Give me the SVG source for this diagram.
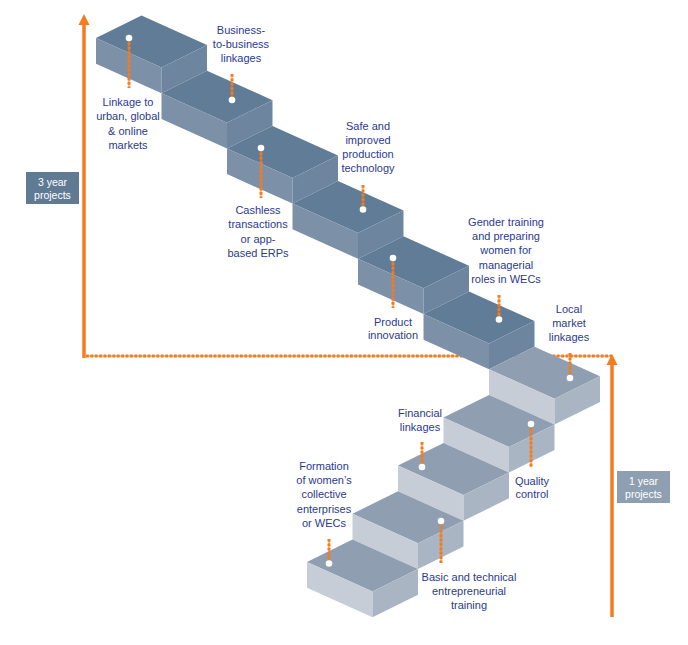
<svg xmlns="http://www.w3.org/2000/svg" xmlns:xlink="http://www.w3.org/1999/xlink" width="688" height="645" viewBox="0 0 688 645">
<style>
  .lbl { font-family: "Liberation Sans", Arial, sans-serif; font-size: 11px; fill: #2b3a8c; text-anchor: middle; }
  .box { font-family: "Liberation Sans", Arial, sans-serif; font-size: 10.5px; fill: #ffffff; text-anchor: middle; }
  .dkTop { fill: #617c96; } .dkFront { fill: #7c90a7; } .dkRight { fill: #6d859f; }
  .ltTop { fill: #8f9eb1; } .ltFront { fill: #c6cdd7; } .ltRight { fill: #aab5c4; }
  .lead { stroke: #f47b20; stroke-width: 3; stroke-dasharray: 2.8 1.6; fill: none; }
  .leadc { stroke: #f47b20; stroke-width: 1; fill: none; }
  .dot { fill: #ffffff; }
  .axis { stroke: #f47b20; stroke-width: 3.5; fill: none; }
  .head { fill: #f47b20; }
</style>
<defs>
  <g id="blockDark">
    <polygon class="dkTop" points="0,0 45.5,-22.5 111,7 65.5,29.5"/>
    <polygon class="dkFront" points="0,0 65.5,29.5 65.5,55.2 0,25.7"/>
    <polygon class="dkRight" points="65.5,29.5 111,7 111,32.7 65.5,55.2"/>
  </g>
  <g id="blockLight">
    <polygon class="ltTop" points="0,0 45.5,-22.5 111,7 65.5,29.5"/>
    <polygon class="ltFront" points="0,0 65.5,29.5 65.5,55.2 0,25.7"/>
    <polygon class="ltRight" points="65.5,29.5 111,7 111,32.7 65.5,55.2"/>
  </g>
</defs>

<g id="connectors">
  <line class="leadc" x1="86" y1="356" x2="612" y2="356"/>
  <line class="lead" x1="86" y1="356" x2="612" y2="356"/>
  <line class="axis" x1="84" y1="358" x2="84" y2="24"/>
  <polygon class="head" points="78.5,25 84,14 89.5,25"/>
  <line class="axis" x1="612" y1="617" x2="612" y2="364"/>
  <polygon class="head" points="606.5,365 612,354 617.5,365"/>
</g>

<g id="axis-3year">
  <rect x="26" y="172" width="53" height="32" fill="#5f7b94"/>
  <text class="box"><tspan x="52.5" y="186">3 year</tspan><tspan x="52.5" y="199">projects</tspan></text>
</g>
<g id="axis-1year">
  <rect x="617" y="471" width="53" height="32" fill="#8f9fb2"/>
  <text class="box"><tspan x="643.5" y="485">1 year</tspan><tspan x="643.5" y="498">projects</tspan></text>
</g>

<!-- Upper staircase (3 year) -->
<g id="step11">
  <use xlink:href="#blockDark" x="96" y="38"/>
  <line class="leadc" x1="129" y1="38" x2="129" y2="88"/>
  <line class="lead" x1="129" y1="38" x2="129" y2="88"/>
  <circle class="dot" cx="129" cy="38" r="3.3"/>
  <text class="lbl"><tspan x="128" y="106">Linkage to</tspan><tspan x="128" y="120">urban, global</tspan><tspan x="128" y="135">&amp; online</tspan><tspan x="128" y="149">markets</tspan></text>
</g>
<g id="step10">
  <use xlink:href="#blockDark" x="161.5" y="93.2"/>
  <line class="leadc" x1="232" y1="74" x2="232" y2="100"/>
  <line class="lead" x1="232" y1="74" x2="232" y2="100"/>
  <circle class="dot" cx="232" cy="100" r="3.3"/>
  <text class="lbl"><tspan x="241" y="34">Business-</tspan><tspan x="241" y="48">to-business</tspan><tspan x="241" y="62">linkages</tspan></text>
</g>
<g id="step9">
  <use xlink:href="#blockDark" x="227" y="148.4"/>
  <line class="leadc" x1="261" y1="148" x2="261" y2="198"/>
  <line class="lead" x1="261" y1="148" x2="261" y2="198"/>
  <circle class="dot" cx="261" cy="148" r="3.3"/>
  <text class="lbl"><tspan x="258" y="214">Cashless</tspan><tspan x="258" y="228">transactions</tspan><tspan x="258" y="243">or app-</tspan><tspan x="258" y="257">based ERPs</tspan></text>
</g>
<g id="step8">
  <use xlink:href="#blockDark" x="292.5" y="203.6"/>
  <line class="leadc" x1="363" y1="185" x2="363" y2="209"/>
  <line class="lead" x1="363" y1="185" x2="363" y2="209"/>
  <circle class="dot" cx="363" cy="209.5" r="3.3"/>
  <text class="lbl"><tspan x="368" y="130">Safe and</tspan><tspan x="368" y="144">improved</tspan><tspan x="368" y="158">production</tspan><tspan x="368" y="172">technology</tspan></text>
</g>
<g id="step7">
  <use xlink:href="#blockDark" x="358" y="258.8"/>
  <line class="leadc" x1="393" y1="258" x2="393" y2="308"/>
  <line class="lead" x1="393" y1="258" x2="393" y2="308"/>
  <circle class="dot" cx="393" cy="258" r="3.3"/>
  <text class="lbl"><tspan x="393" y="326">Product</tspan><tspan x="393" y="339">innovation</tspan></text>
</g>
<g id="step6">
  <use xlink:href="#blockDark" x="423.5" y="314"/>
  <line class="leadc" x1="499" y1="295" x2="499" y2="319"/>
  <line class="lead" x1="499" y1="295" x2="499" y2="319"/>
  <circle class="dot" cx="499" cy="319.5" r="3.3"/>
  <text class="lbl"><tspan x="506" y="226">Gender training</tspan><tspan x="506" y="240">and preparing</tspan><tspan x="506" y="254">women for</tspan><tspan x="506" y="269">managerial</tspan><tspan x="506" y="283">roles in WECs</tspan></text>
</g>

<!-- Lower staircase (1 year) -->
<g id="step5">
  <use xlink:href="#blockLight" x="489" y="369.2"/>
  <line class="leadc" x1="570" y1="353" x2="570" y2="377"/>
  <line class="lead" x1="570" y1="353" x2="570" y2="377"/>
  <circle class="dot" cx="570" cy="378" r="3.3"/>
  <text class="lbl"><tspan x="569" y="313">Local</tspan><tspan x="569" y="327">market</tspan><tspan x="569" y="341">linkages</tspan></text>
</g>
<g id="step4">
  <use xlink:href="#blockLight" x="443.5" y="417.4"/>
  <line class="leadc" x1="531" y1="424" x2="531" y2="467"/>
  <line class="lead" x1="531" y1="424" x2="531" y2="467"/>
  <circle class="dot" cx="531" cy="424" r="3.3"/>
  <text class="lbl"><tspan x="532" y="485">Quality</tspan><tspan x="532" y="498">control</tspan></text>
</g>
<g id="step3">
  <use xlink:href="#blockLight" x="398" y="465.6"/>
  <line class="leadc" x1="422" y1="442" x2="422" y2="467"/>
  <line class="lead" x1="422" y1="442" x2="422" y2="467"/>
  <circle class="dot" cx="422" cy="467" r="3.3"/>
  <text class="lbl"><tspan x="420" y="417">Financial</tspan><tspan x="420" y="431">linkages</tspan></text>
</g>
<g id="step2">
  <use xlink:href="#blockLight" x="352.5" y="513.8"/>
  <line class="leadc" x1="441" y1="521" x2="441" y2="563"/>
  <line class="lead" x1="441" y1="521" x2="441" y2="563"/>
  <circle class="dot" cx="441" cy="521" r="3.3"/>
  <text class="lbl"><tspan x="469" y="581">Basic and technical</tspan><tspan x="469" y="595">entrepreneurial</tspan><tspan x="469" y="609">training</tspan></text>
</g>
<g id="step1">
  <use xlink:href="#blockLight" x="307" y="562"/>
  <line class="leadc" x1="329" y1="539" x2="329" y2="563"/>
  <line class="lead" x1="329" y1="539" x2="329" y2="563"/>
  <circle class="dot" cx="329" cy="563.5" r="3.3"/>
  <text class="lbl"><tspan x="324" y="470">Formation</tspan><tspan x="324" y="484">of women’s</tspan><tspan x="324" y="498">collective</tspan><tspan x="324" y="513">enterprises</tspan><tspan x="324" y="527">or WECs</tspan></text>
</g>
</svg>
